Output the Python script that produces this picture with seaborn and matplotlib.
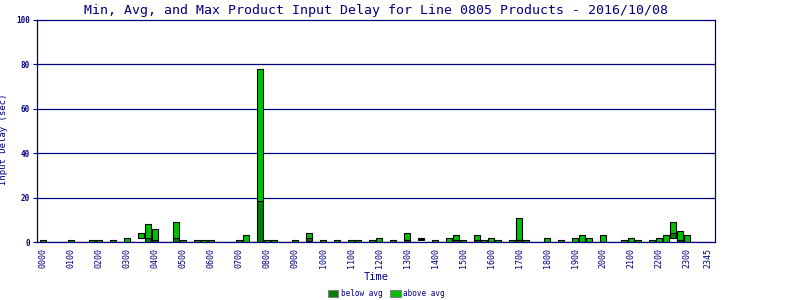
import numpy as np
import pandas as pd
import matplotlib
matplotlib.use("Agg")
import matplotlib.pyplot as plt
import seaborn as sns
from matplotlib.patches import Patch

# 15-minute slots 0000 .. 2345
slots = [f"{h:02d}{m:02d}" for h in range(24) for m in (0, 15, 30, 45)]

# slot -> (min, avg, max)
min_vals = [0.0] * 96
avg_vals = [0.0] * 96
max_vals = [0.0] * 96

small_slots = [0, 4, 7, 8, 10, 20, 22, 23, 24, 28, 32, 33, 36, 40, 42, 44, 45, 47,
               50, 56, 60, 63, 65, 67, 69, 74, 83, 85, 87]
small_max = 0.8
for s in small_slots:
    max_vals[s] = small_max

# (slot, min, avg, max)
readings = [
    (12, 0.0, 0.0, 1.7),
    (14, 1.6, 1.6, 4.0),
    (15, 0.0, 1.6, 8.1),
    (16, 0.0, 1.0, 5.7),
    (19, 0.0, 1.6, 8.9),
    (29, 0.0, 0.0, 3.0),
    (31, 0.0, 18.6, 77.8),
    (38, 0.4, 1.6, 4.0),
    (48, 0.0, 0.0, 1.7),
    (52, 0.0, 1.0, 4.0),
    (54, 1.0, 1.5, 2.0),
    (58, 0.0, 0.0, 1.7),
    (59, 0.0, 1.0, 3.0),
    (62, 0.0, 1.0, 3.0),
    (64, 0.0, 0.0, 1.7),
    (68, 0.0, 1.0, 10.7),
    (72, 0.0, 0.0, 1.7),
    (76, 0.0, 0.0, 1.7),
    (77, 0.0, 0.0, 3.0),
    (78, 0.0, 0.0, 1.7),
    (80, 0.0, 0.0, 3.0),
    (84, 0.0, 0.0, 1.7),
    (88, 0.0, 0.0, 1.7),
    (89, 0.0, 0.0, 3.0),
    (90, 1.6, 3.9, 8.9),
    (91, 0.0, 1.0, 4.8),
    (92, 0.0, 0.0, 3.0),
]
for s, mn, av, mx in readings:
    min_vals[s] = mn
    avg_vals[s] = av
    max_vals[s] = mx

tick_labels = [f"{h:02d}00" for h in range(24)] + ["2345"]
yticks = [0, 20, 40, 60, 80, 100]

NAVY = "#000080"
DARK = "#008000"
BRIGHT = "#00C000"

sns.set_theme(style="white")
plt.rcParams["font.family"] = ["DejaVu Sans Mono", "DejaVu Sans"]

df = pd.DataFrame({
    "slot": pd.Categorical(slots, categories=slots, ordered=True),
    "min": min_vals, "avg": avg_vals, "max": max_vals,
})
df["below"] = df["avg"] - df["min"]
df["above"] = df["max"] - df["avg"]

fig = plt.figure(figsize=(8, 3), dpi=100)
ax = fig.add_axes([37 / 800, 1 - 242 / 300, (715 - 37) / 800, (242 - 20) / 300])

for y in [20, 40, 60, 80]:
    ax.axhline(y, color=NAVY, lw=0.9, zorder=0)

sns.barplot(data=df, x="slot", y="below", order=slots, color=DARK, saturation=1,
            width=0.8, bottom=df["min"].to_numpy(), edgecolor="black", linewidth=0.8,
            ax=ax, zorder=2)
sns.barplot(data=df, x="slot", y="above", order=slots, color=BRIGHT, saturation=1,
            width=0.8, bottom=df["avg"].to_numpy(), edgecolor="black", linewidth=0.8,
            ax=ax, zorder=2)

ax.set_xlim(-0.86, 96.0)
ax.set_ylim(0, 100)
ax.set_yticks(yticks)
ax.set_yticklabels([str(v) for v in yticks], fontsize=5.5, fontweight="bold", color=NAVY)

tick_pos = [slots.index(t) for t in tick_labels]
ax.set_xticks(tick_pos)
ax.set_xticklabels(tick_labels, rotation=90, fontsize=6, color=NAVY)
ax.tick_params(axis="y", length=3, width=0.8, color=NAVY, pad=2, left=True)
ax.tick_params(axis="x", length=0, pad=4, bottom=True)

for sp in ax.spines.values():
    sp.set_color(NAVY)
    sp.set_linewidth(0.9)
    sp.set_visible(True)

ax.set_xlabel("Time", fontsize=7.5, color=NAVY, labelpad=3)
ax.set_ylabel("Input Delay (sec)", fontsize=6.5, color=NAVY)
ax.yaxis.set_label_coords((8 - 37) / 678, (242 - 139) / 222)
ax.set_title("Min, Avg, and Max Product Input Delay for Line 0805 Products - 2016/10/08",
             fontsize=9.5, color=NAVY, pad=4)

handles = [Patch(facecolor=DARK, edgecolor="#808080", lw=0.8, label="below avg"),
           Patch(facecolor=BRIGHT, edgecolor="#808080", lw=0.8, label="above avg")]
leg = fig.legend(handles=handles, loc="center", bbox_to_anchor=(386 / 800, 1 - 294 / 300),
                 ncol=2, frameon=False, fontsize=5.5, handlelength=1.4, handleheight=1.0,
                 handletextpad=0.3, columnspacing=1.0, borderaxespad=0)
for t in leg.get_texts():
    t.set_color(NAVY)

fig.savefig("out.png", dpi=100, facecolor="white")
